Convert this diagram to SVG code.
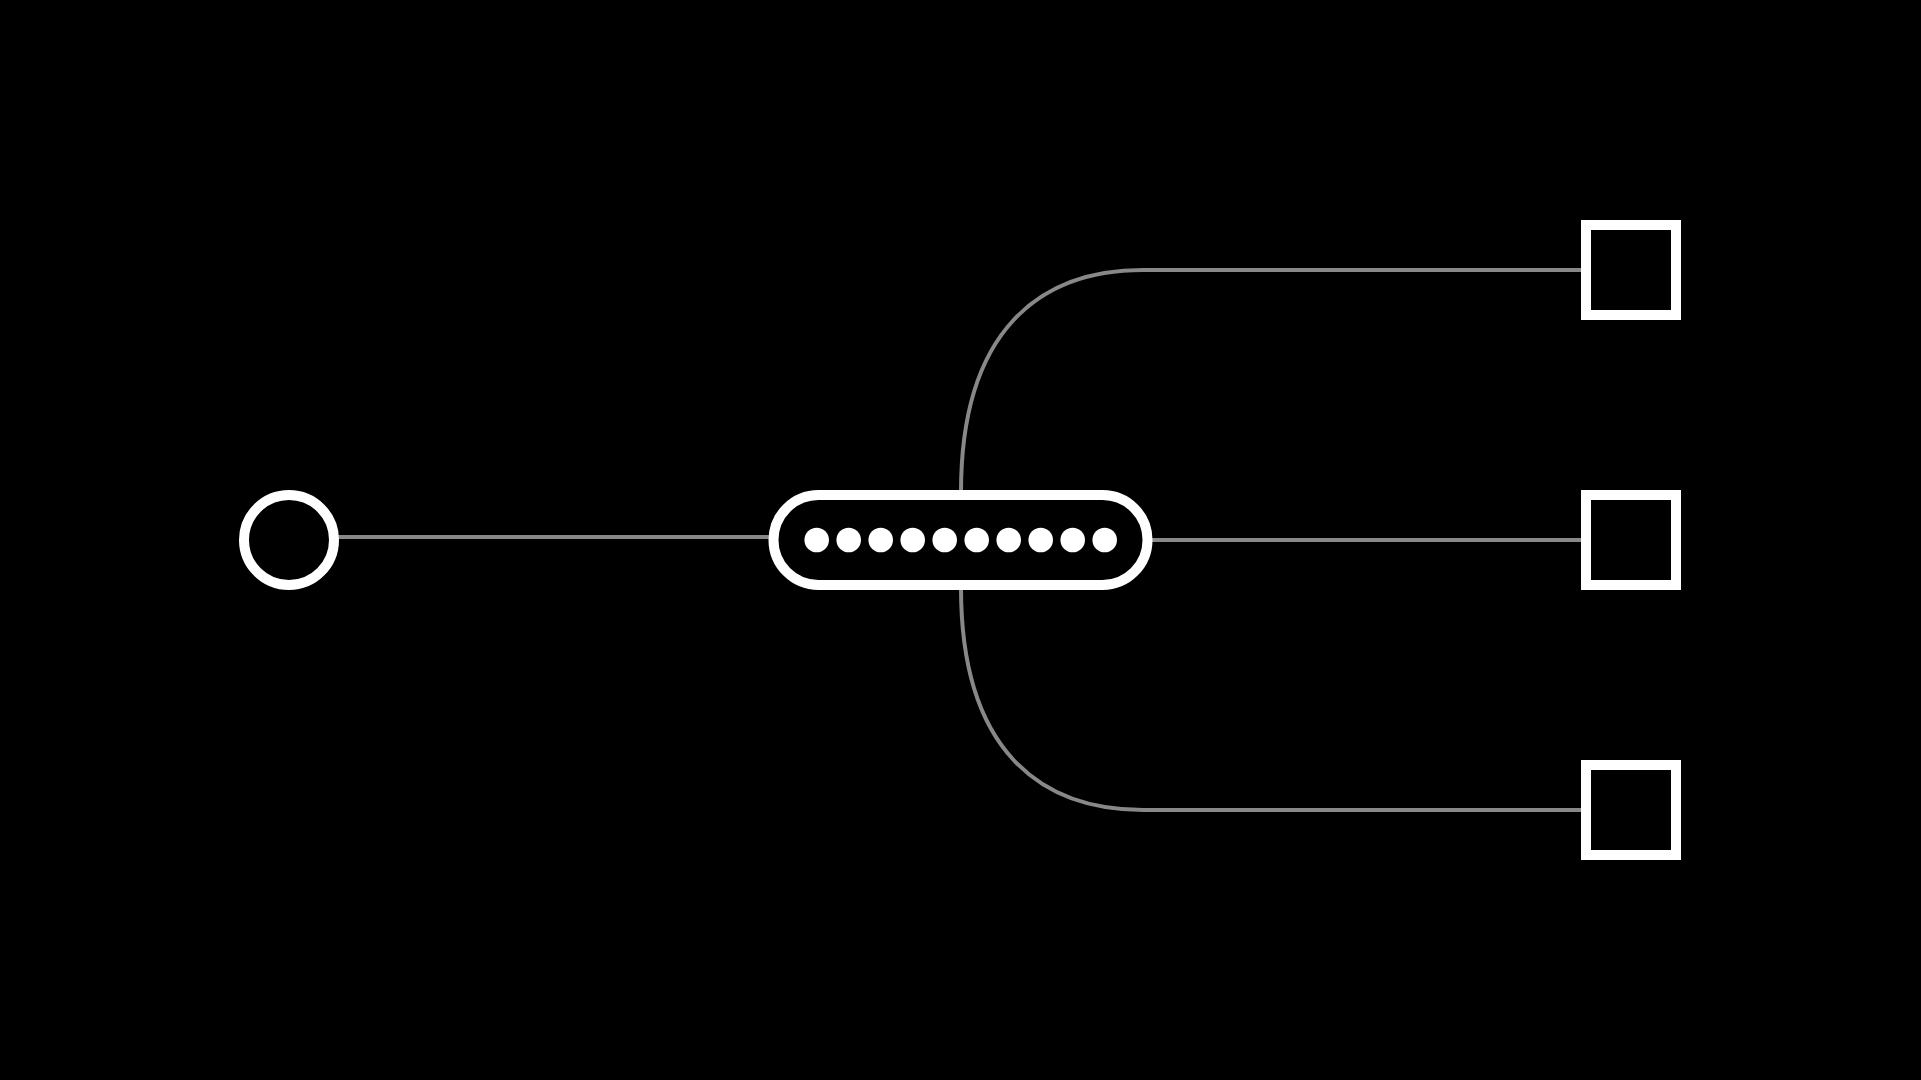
<svg xmlns="http://www.w3.org/2000/svg" width="1921" height="1080" viewBox="0 0 1921 1080">
<style>
.edge{fill:none;stroke:#888888;stroke-width:4}
.node{fill:#000000;stroke:#ffffff;stroke-width:10}
.dot{fill:#ffffff}
</style>
<rect x="0" y="0" width="1921" height="1080" fill="#000000"/>
<g id="connectors">
<line class="edge" x1="334" y1="537" x2="773" y2="537"/>
<line class="edge" x1="1147" y1="540" x2="1586" y2="540"/>
<path class="edge" d="M961 492 C961 330 1040 270 1143 270 L1586 270"/>
<path class="edge" d="M961 588 C961 750 1040 810 1143 810 L1586 810"/>
</g>
<g id="start">
<circle class="node" cx="289" cy="540" r="45"/>
</g>
<g id="queue">
<rect class="node" x="773.5" y="495" width="374" height="90" rx="45" ry="45"/>
<circle class="dot" cx="816.7" cy="540" r="12.3"/>
<circle class="dot" cx="848.7" cy="540" r="12.3"/>
<circle class="dot" cx="880.7" cy="540" r="12.3"/>
<circle class="dot" cx="912.7" cy="540" r="12.3"/>
<circle class="dot" cx="944.7" cy="540" r="12.3"/>
<circle class="dot" cx="976.7" cy="540" r="12.3"/>
<circle class="dot" cx="1008.7" cy="540" r="12.3"/>
<circle class="dot" cx="1040.7" cy="540" r="12.3"/>
<circle class="dot" cx="1072.7" cy="540" r="12.3"/>
<circle class="dot" cx="1104.7" cy="540" r="12.3"/>
</g>
<g id="worker1">
<rect class="node" x="1586" y="225" width="90" height="90"/>
</g>
<g id="worker2">
<rect class="node" x="1586" y="495" width="90" height="90"/>
</g>
<g id="worker3">
<rect class="node" x="1586" y="765" width="90" height="90"/>
</g>
</svg>
